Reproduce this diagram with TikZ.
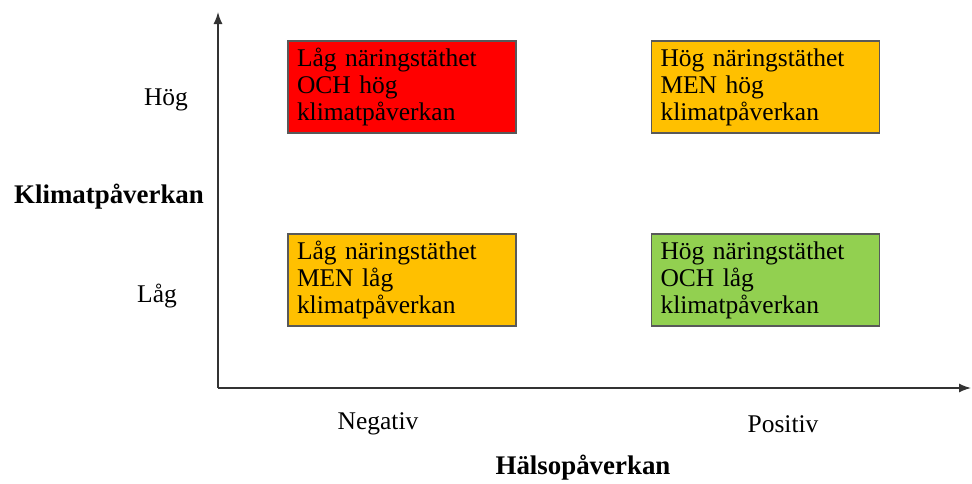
\documentclass[tikz,border=0pt]{standalone}
\usepackage{fontspec}
\setmainfont{Liberation Serif}
\usetikzlibrary{positioning,arrows.meta}
\definecolor{rod}{HTML}{FF0000}
\definecolor{orange}{HTML}{FFC000}
\definecolor{gron}{HTML}{92D050}
\tikzset{
	ruta/.style={draw=black!65,line width=0.6pt,minimum width=4.56cm,minimum height=1.84cm,
		text width=4.2cm,inner xsep=0.18cm,align=left,font=\fontsize{14.5}{15.4}\selectfont},
	etikett/.style={font=\fontsize{14.5}{15.4}\selectfont},
	rubrik/.style={font=\fontsize{15.3}{16}\selectfont\bfseries}
}
\begin{document}
\begin{tikzpicture}
		\useasboundingbox (0,0) rectangle (19.44,9.66);
		\coordinate (O) at (4.36,1.90);
		\coordinate (Y) at (4.36,9.42);
		\coordinate (X) at (19.42,1.90);
		\draw[line width=0.8pt,black!80,-{Latex[length=2.4mm,width=1.8mm]}] (O)--(Y);
		\draw[line width=0.8pt,black!80,-{Latex[length=2.4mm,width=1.8mm]}] (O)--(X);
		\node[ruta,fill=rod] (LH) at (8.04,7.92) {Låg näringstäthet\\OCH hög\\klimatpåverkan};
		\node[ruta,fill=orange] (HH) at (15.31,7.92) {Hög näringstäthet\\MEN hög\\klimatpåverkan};
		\node[ruta,fill=orange] (LL) at (8.04,4.06) {Låg näringstäthet\\MEN låg\\klimatpåverkan};
		\node[ruta,fill=gron] (HL) at (15.31,4.06) {Hög näringstäthet\\OCH låg\\klimatpåverkan};
		\node[etikett] (hog) at (3.32,7.66) {Hög};
		\node[etikett] (lag) at (3.14,3.74) {Låg};
		\node[rubrik] (klimat) at (2.18,5.72) {Klimatpåverkan};
		\node[etikett] (neg) at (7.56,1.18) {Negativ};
		\node[etikett] (pos) at (15.66,1.18) {Positiv};
		\node[rubrik] (halsa) at (11.66,0.30) {Hälsopåverkan};
\end{tikzpicture}
\end{document}
